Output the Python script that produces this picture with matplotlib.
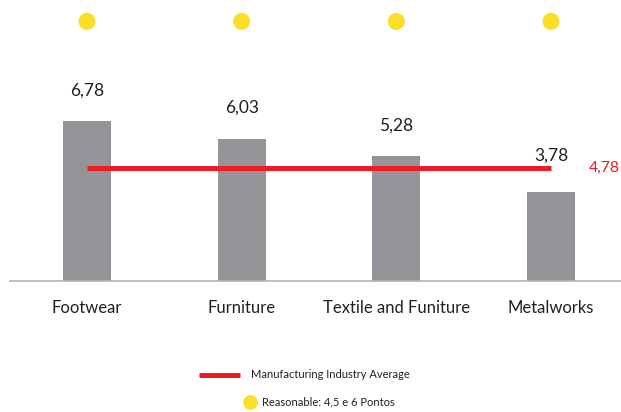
import matplotlib.pyplot as plt
from matplotlib.lines import Line2D
import numpy as np

categories = ["Footwear", "Furniture", "Textile and Funiture", "Metalworks"]
scores = [6.78, 6.03, 5.28, 3.78]
industry_average = 4.78
reasonable_marker = 11.0  # dots sit above the bars at a fixed level

BAR_GREY = "#939598"
RED = "#ed1c24"
YELLOW = "#fade28"
TEXT = "#231f20"

plt.rcParams["font.family"] = ["Lato", "DejaVu Sans"]

W, H = 621, 412
fig = plt.figure(figsize=(W / 100, H / 100), dpi=100)

# axes spans the plot area: baseline at 281 px from top
base_px = 281
ax = fig.add_axes([10 / W, (H - base_px) / H, 611 / W, base_px / H])
px_per_unit = 23.6
spacing = 154.67
ax.set_xlim(-(87 - 10) / spacing, (621 - 87) / spacing)
ax.set_ylim(0, base_px / px_per_unit)

x = np.arange(len(categories))
ax.bar(x, scores, width=48 / spacing, color=BAR_GREY, zorder=2)

# value labels; the last one is lifted to clear the average line
offsets = [1.3, 1.3, 1.3, 1.55]
for xi, v, off in zip(x, scores, offsets):
    ax.text(xi, v + off, f"{v:.2f}".replace(".", ","), ha="center", va="center",
            fontsize=12.5, color=TEXT)

# industry average line across the categories
ax.plot([x[0], x[-1]], [industry_average, industry_average],
        color=RED, lw=3.6, solid_capstyle="butt", zorder=3)
ax.text(x[-1] + 0.245, industry_average, f"{industry_average:.2f}".replace(".", ","),
        ha="left", va="center", fontsize=11.3, color=RED)

ax.scatter(x, [reasonable_marker] * len(x), s=150, color=YELLOW, zorder=3,
           edgecolors="none")

for side in ["top", "right", "left"]:
    ax.spines[side].set_visible(False)
ax.spines["bottom"].set_color("#b3b3b3")
ax.spines["bottom"].set_linewidth(1.2)
ax.set_yticks([])
ax.set_xticks(x)
ax.set_xticklabels(categories, fontsize=12, color=TEXT)
ax.tick_params(axis="x", length=0, pad=14)

# legend drawn by hand below the chart
fig.add_artist(Line2D([199 / W, 240 / W], [(H - 375) / H] * 2, color=RED, lw=3.6,
                      solid_capstyle="butt"))
fig.text(251 / W, (H - 375) / H, "Manufacturing Industry Average", fontsize=8,
         color=TEXT, ha="left", va="center")
fig.add_artist(Line2D([250 / W], [(H - 402) / H], marker="o", markersize=10.5,
                      color=YELLOW, markeredgewidth=0, linestyle="none"))
fig.text(262 / W, (H - 402) / H, "Reasonable: 4,5 e 6 Pontos", fontsize=8,
         color=TEXT, ha="left", va="center")

fig.savefig("out.png", dpi=100)
